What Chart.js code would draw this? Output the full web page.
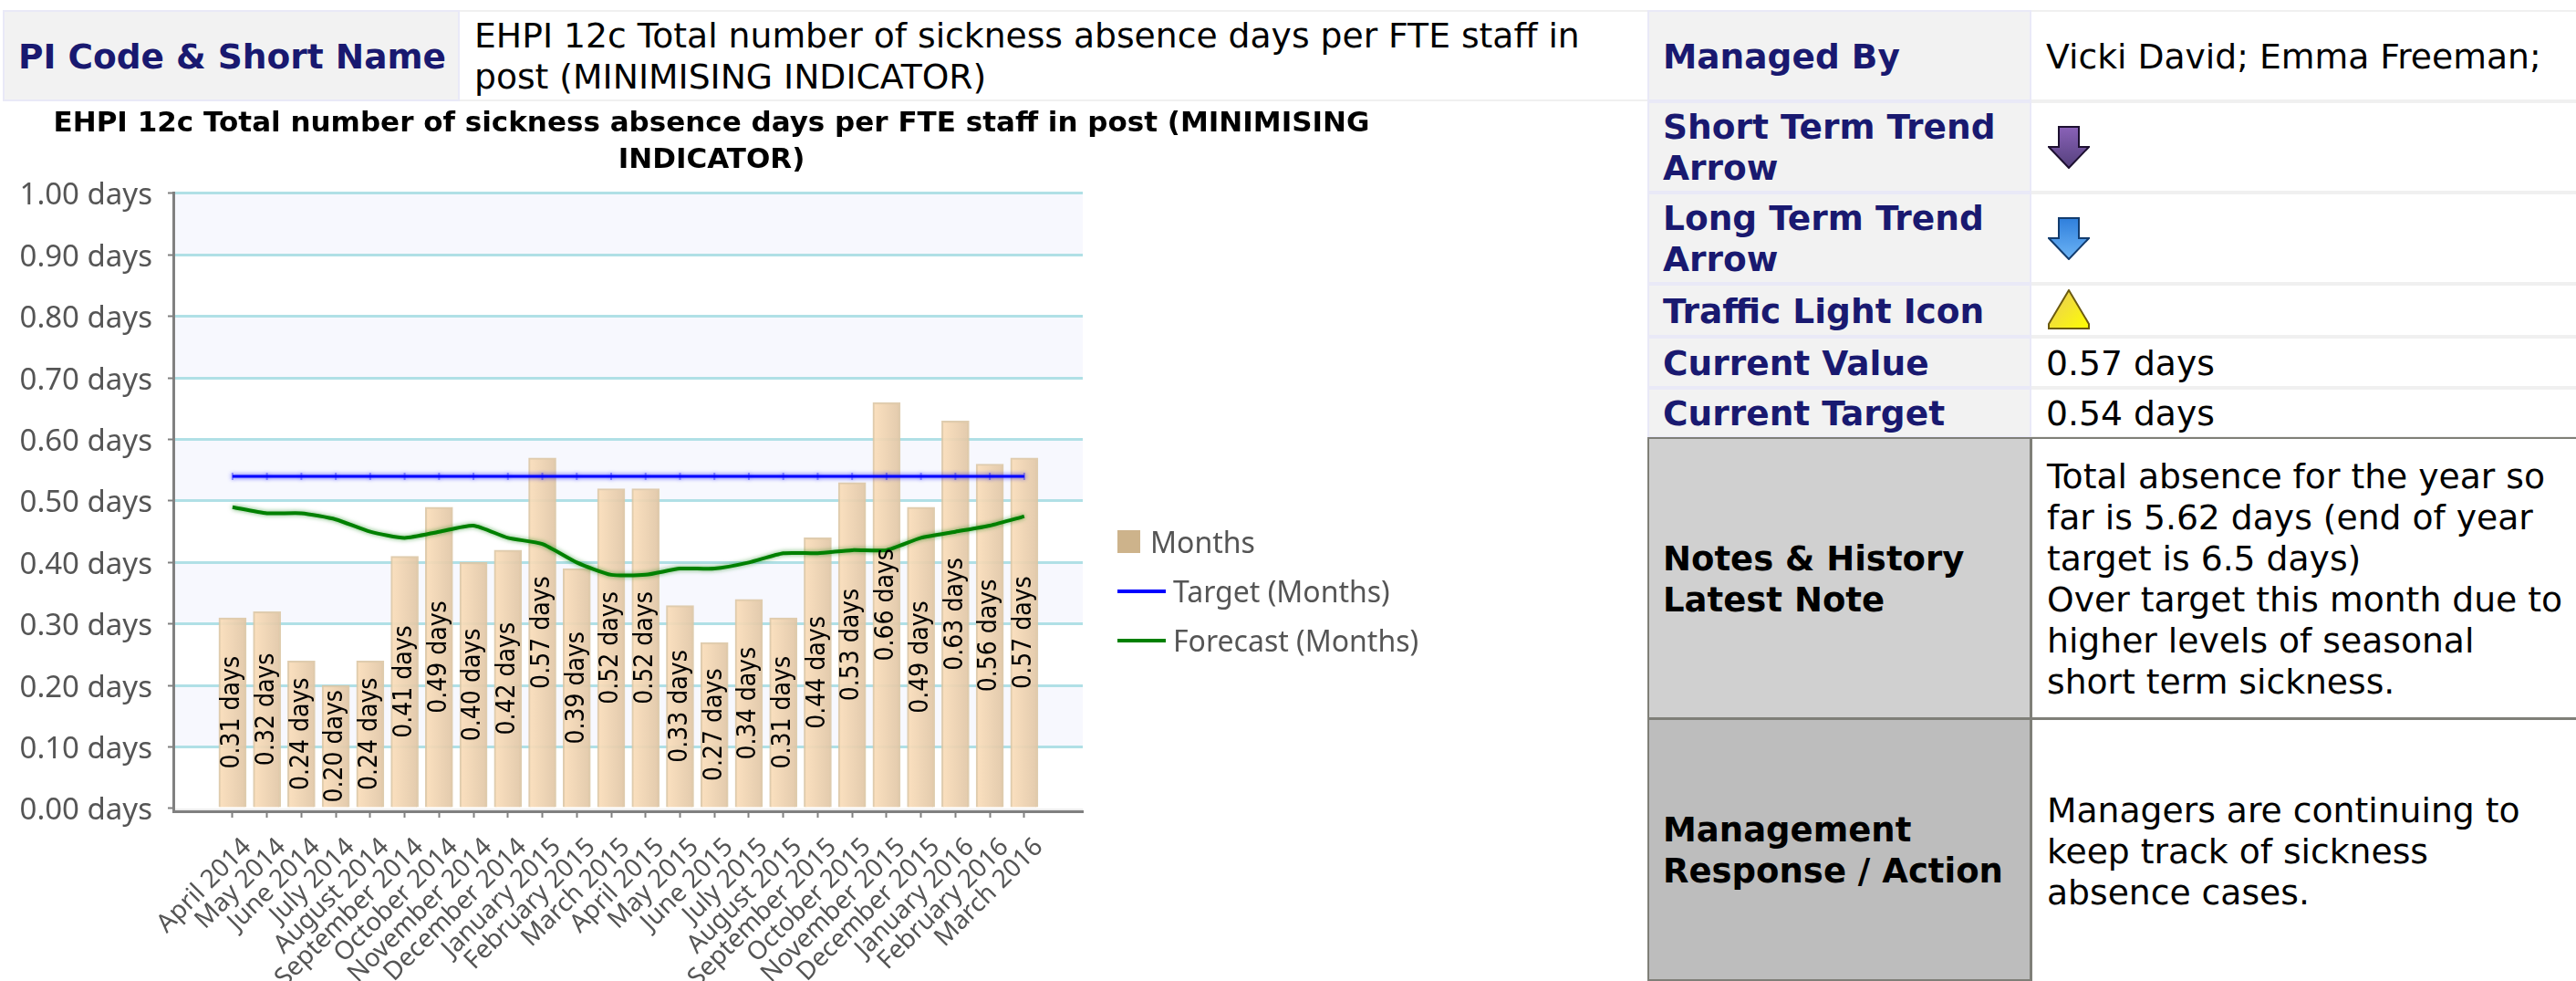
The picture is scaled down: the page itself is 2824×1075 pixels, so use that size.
<!DOCTYPE html>
<html>
<head>
<meta charset="utf-8">
<script src="https://cdn.jsdelivr.net/npm/chart.js@4"></script>
<style>
html, body { margin: 0; padding: 0; background: #fff; overflow: hidden; }
body { width: 2824px; height: 1075px; position: relative; font-family: "DejaVu Sans", sans-serif; }
#myChart { position: absolute; left: 0; top: 111px; }
.cell { position: absolute; box-sizing: border-box; display: flex; align-items: center; font-size: 37.7px; line-height: 45px; color: #000; padding-top: 2px; }
.label { background: #f2f2f2; border: 2px solid #e9e9f7; color: #191970; font-weight: bold; font-size: 37.5px; padding-left: 15px; }
.value { border-bottom: 2px solid #f0f0f0; border-top: 2px solid #f0f0f0; padding-left: 16px; }
.dark { color: #000; border-color: #7f7f78; font-size: 37px; }
.value.dark { border-top: 2px solid #7f7f78; border-bottom: 2px solid #7f7f78; border-left: 2px solid #7f7f78; font-size: 37.7px; }
.legend { position: absolute; left: 1225px; font: 32px "Noto Sans", sans-serif; color: #555; height: 40px; line-height: 40px; white-space: nowrap; }
.legend i { position: absolute; left: 0; display: block; }
svg { position: absolute; }
</style>
</head>
<body>

<div class="cell label" style="left:3px;top:11px;width:501px;height:100px">PI Code &amp; Short Name</div>
<div class="cell value" style="left:504px;top:11px;width:1302px;height:100px;padding-right:40px">EHPI 12c Total number of sickness absence days per FTE staff in post (MINIMISING INDICATOR)</div>

<div class="cell label" style="left:1806px;top:11px;width:421px;height:100px">Managed By</div>
<div class="cell value" style="left:2227px;top:11px;width:597px;height:100px">Vicki David; Emma Freeman;</div>
<div class="cell label" style="left:1806px;top:111px;width:421px;height:100px">Short Term Trend Arrow</div>
<div class="cell value" style="left:2227px;top:111px;width:597px;height:100px"></div>
<div class="cell label" style="left:1806px;top:211px;width:421px;height:100px">Long Term Trend Arrow</div>
<div class="cell value" style="left:2227px;top:211px;width:597px;height:100px"></div>
<div class="cell label" style="left:1806px;top:311px;width:421px;height:58px">Traffic Light Icon</div>
<div class="cell value" style="left:2227px;top:311px;width:597px;height:58px"></div>
<div class="cell label" style="left:1806px;top:369px;width:421px;height:56px">Current Value</div>
<div class="cell value" style="left:2227px;top:369px;width:597px;height:56px">0.57 days</div>
<div class="cell label" style="left:1806px;top:425px;width:421px;height:55px">Current Target</div>
<div class="cell value" style="left:2227px;top:425px;width:597px;height:55px">0.54 days</div>
<div class="cell label dark" style="left:1806px;top:479px;width:421px;height:309px;background:#d0d0d0">Notes &amp; History<br>Latest Note</div>
<div class="cell value dark" style="left:2226px;top:479px;width:598px;height:309px">Total absence for the year so<br>far is 5.62 days (end of year<br>target is 6.5 days)<br>Over target this month due to<br>higher levels of seasonal<br>short term sickness.</div>
<div class="cell label dark" style="left:1806px;top:787px;width:421px;height:288px;background:#bdbdbd">Management<br>Response / Action</div>
<div class="cell value dark" style="left:2226px;top:787px;width:598px;height:288px;border-bottom:0">Managers are continuing to<br>keep track of sickness<br>absence cases.</div>

<svg style="left:2245px;top:138px" width="46" height="47" viewBox="0 0 46 47">
  <defs><linearGradient id="pu" x1="0" y1="0" x2="0" y2="1"><stop offset="0" stop-color="#8a62b8"/><stop offset="1" stop-color="#54407c"/></linearGradient></defs>
  <path d="M12 1H34V23H45L23 46L1 23H12Z" fill="url(#pu)" stroke="#1d1030" stroke-width="2"/>
</svg>
<svg style="left:2245px;top:238px" width="46" height="47" viewBox="0 0 46 47">
  <defs><linearGradient id="bl" x1="0" y1="0" x2="0" y2="1"><stop offset="0" stop-color="#2f7fdc"/><stop offset="1" stop-color="#6db4f5"/></linearGradient></defs>
  <path d="M12 1H34V23H45L23 46L1 23H12Z" fill="url(#bl)" stroke="#123c6e" stroke-width="2"/>
</svg>
<svg style="left:2245px;top:317px" width="46" height="45" viewBox="0 0 46 45">
  <defs><linearGradient id="ye" x1="0" y1="0" x2="1" y2="1"><stop offset="0" stop-color="#e8c860"/><stop offset="1" stop-color="#ffff00"/></linearGradient></defs>
  <path d="M23 1L45 38V43H1V38Z" fill="url(#ye)" stroke="#6b5a10" stroke-width="2"/>
</svg>

<canvas id="myChart" width="1560" height="964"></canvas>

<div class="legend" style="top:574px"><i style="top:7px;width:25px;height:25px;background:#cdb38b"></i><span id="lg0" style="margin-left:36px"></span></div>
<div class="legend" style="top:628px"><i style="top:18px;width:53px;height:4px;background:#0000ff"></i><span id="lg1" style="margin-left:61px"></span></div>
<div class="legend" style="top:682px"><i style="top:18px;width:53px;height:4px;background:#008000"></i><span id="lg2" style="margin-left:61px"></span></div>

<script>
const months = [
    'April 2014', 'May 2014', 'June 2014', 'July 2014', 'August 2014', 'September 2014',
    'October 2014', 'November 2014', 'December 2014', 'January 2015', 'February 2015', 'March 2015',
    'April 2015', 'May 2015', 'June 2015', 'July 2015', 'August 2015', 'September 2015',
    'October 2015', 'November 2015', 'December 2015', 'January 2016', 'February 2016', 'March 2016',
];
const actual = [0.31, 0.32, 0.24, 0.20, 0.24, 0.41, 0.49, 0.40, 0.42, 0.57, 0.39, 0.52,
    0.52, 0.33, 0.27, 0.34, 0.31, 0.44, 0.53, 0.66, 0.49, 0.63, 0.56, 0.57];
const target = [0.54, 0.54, 0.54, 0.54, 0.54, 0.54, 0.54, 0.54, 0.54, 0.54, 0.54, 0.54,
    0.54, 0.54, 0.54, 0.54, 0.54, 0.54, 0.54, 0.54, 0.54, 0.54, 0.54, 0.54];
const forecast = [0.49, 0.48, 0.48, 0.47, 0.45, 0.44, 0.45, 0.46, 0.44, 0.43, 0.40, 0.38,
    0.38, 0.39, 0.39, 0.40, 0.415, 0.415, 0.42, 0.42, 0.44, 0.45, 0.46, 0.475];
const yTicks = [0, 0.1, 0.2, 0.3, 0.4, 0.5, 0.6, 0.7, 0.8, 0.9, 1];
const titleLines = ['EHPI 12c Total number of sickness absence days per FTE staff in post (MINIMISING', 'INDICATOR)'];

const toPoints = (values) => values.map((v, i) => ({ x: i, y: v }));
const days = (v) => v.toFixed(2) + ' days';

// alternating bands behind the grid
const bands = {
    id: 'bands',
    beforeDraw(chart) {
        const { ctx, chartArea, scales } = chart;
        ctx.save();
        ctx.fillStyle = '#f7f8fe';
        for (let i = 0; i < yTicks.length - 1; i += 2) {
            const top = scales.y.getPixelForValue(yTicks[yTicks.length - 1 - i]);
            const bottom = scales.y.getPixelForValue(yTicks[yTicks.length - 2 - i]);
            ctx.fillRect(chartArea.left, top, chartArea.width, bottom - top);
        }
        ctx.fillStyle = '#eeeeee';
        const zero = scales.y.getPixelForValue(0);
        ctx.fillRect(chartArea.left, zero, chartArea.width, chartArea.bottom - zero);
        ctx.restore();
    },
};

// soft edge on the two lines
const glow = {
    id: 'glow',
    beforeDatasetDraw(chart, args) {
        if (args.index === 0) return;
        const ctx = chart.ctx;
        ctx.save();
        ctx.shadowColor = args.index === 1 ? 'rgba(0,0,255,0.8)' : 'rgba(0,128,0,0.6)';
        ctx.shadowBlur = 5;
    },
    afterDatasetDraw(chart, args) {
        if (args.index !== 0) chart.ctx.restore();
    },
};

// value written up the middle of each bar
const barLabels = {
    id: 'barLabels',
    afterDatasetsDraw(chart) {
        const ctx = chart.ctx;
        chart.getDatasetMeta(0).data.forEach((bar, i) => {
            ctx.save();
            ctx.translate(bar.x, (bar.y + bar.base) / 2);
            ctx.rotate(-Math.PI / 2);
            ctx.font = '28px "DejaVu Sans Condensed", "DejaVu Sans"';
            ctx.fillStyle = '#000';
            ctx.textAlign = 'center';
            ctx.textBaseline = 'middle';
            ctx.fillText(days(actual[i]), 0, 0);
            ctx.restore();
        });
    },
};

const barFill = (c) => {
    const x = c.chart.scales.x;
    const mid = x ? x.getPixelForValue(c.dataIndex) : NaN;
    if (!Number.isFinite(mid)) return '#f3d9b8';
    const g = c.chart.ctx.createLinearGradient(mid - 15, 0, mid + 15, 0);
    g.addColorStop(0, 'rgba(251,222,186,0.92)');
    g.addColorStop(1, 'rgba(224,198,166,0.92)');
    return g;
};

const config = {
    type: 'bar',
    data: {
        datasets: [{
            label: 'Months',
            data: toPoints(actual),
            backgroundColor: barFill,
            borderColor: 'rgba(220,198,165,0.9)',
            borderWidth: 2,
            barThickness: 30,
            order: 3,
        }, {
            type: 'line',
            label: 'Target (Months)',
            data: toPoints(target),
            borderColor: '#0000ff',
            borderWidth: 3,
            pointStyle: 'line',
            pointRotation: 90,
            pointRadius: 4,
            pointBorderColor: 'rgba(0,0,255,0.35)',
            pointBorderWidth: 2,
            order: 2,
        }, {
            type: 'line',
            label: 'Forecast (Months)',
            data: toPoints(forecast),
            borderColor: '#008000',
            borderWidth: 4,
            pointRadius: 0,
            tension: 0.2,
            order: 1,
        }],
    },
    options: {
        responsive: false,
        animation: false,
        plugins: {
            legend: { display: false },
            tooltip: { enabled: false },
            title: {
                display: true,
                text: titleLines,
                color: '#000',
                font: { family: '"DejaVu Sans"', size: 31, weight: 'bold', lineHeight: 1.29 },
                padding: { top: 5, bottom: 16 },
            },
        },
        scales: {
            x: {
                type: 'linear',
                offset: false,
                min: -1.72,
                max: 24.7,
                afterBuildTicks(scale) { scale.ticks = months.map((m, i) => ({ value: i })); },
                afterFit(scale) { scale.height = 186; },
                grid: { offset: false, drawOnChartArea: false, tickColor: '#808080', tickLength: 7, tickWidth: 2 },
                border: { color: '#808080', width: 3 },
                ticks: {
                    callback: (v) => months[v],
                    autoSkip: false,
                    maxRotation: 45,
                    minRotation: 45,
                    labelOffset: 16,
                    padding: 16,
                    color: '#555',
                    font: { family: '"Noto Sans"', size: 28 },
                },
            },
            y: {
                min: -0.0045,
                max: 1,
                afterBuildTicks(scale) { scale.ticks = yTicks.map((v) => ({ value: v })); },
                afterFit(scale) { scale.width = 190; },
                grid: {
                    color: (c) => (c.tick && c.tick.value === 0 ? 'rgba(0,0,0,0)' : '#b0e0e6'),
                    lineWidth: 3,
                    tickColor: '#808080',
                    tickLength: 6,
                    tickWidth: 2,
                },
                border: { color: '#808080', width: 3 },
                ticks: {
                    callback: (v) => days(v),
                    padding: 17,
                    labelOffset: 3,
                    color: '#555',
                    font: { family: '"Noto Sans"', size: 33 },
                },
            },
            // empty axis, only reserves the room the legend sits in
            room: {
                position: 'right',
                afterFit(scale) { scale.width = 373; },
                grid: { display: false },
                border: { display: false },
                ticks: { display: false },
            },
        },
    },
    plugins: [bands, glow, barLabels],
};

var myChart = new Chart(document.getElementById('myChart'), config);

myChart.data.datasets.forEach((d, i) => {
    document.getElementById('lg' + i).textContent = d.label;
});
</script>
</body>
</html>
